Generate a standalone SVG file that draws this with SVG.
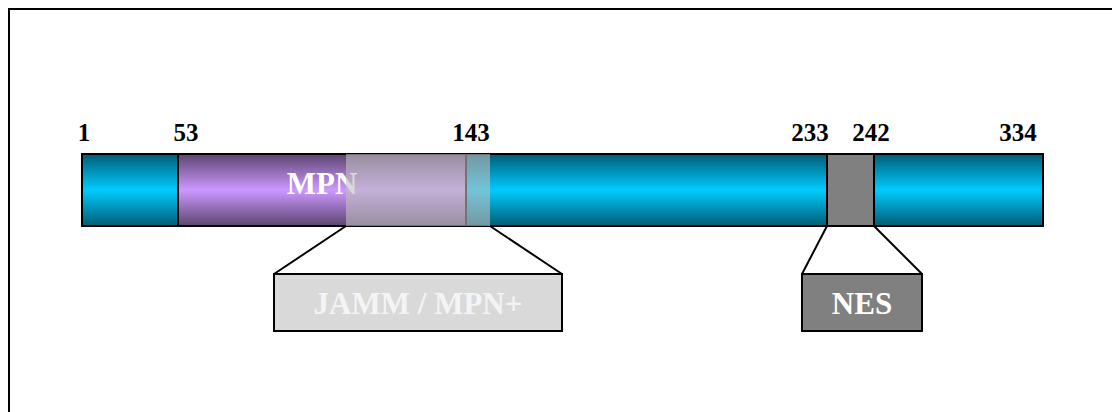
<svg xmlns="http://www.w3.org/2000/svg" width="1112" height="412" viewBox="0 0 1112 412">
  <defs>
    <linearGradient id="cyan" x1="0" y1="0" x2="0" y2="1">
      <stop offset="0" stop-color="#005c74"/>
      <stop offset="0.5" stop-color="#00ccff"/>
      <stop offset="1" stop-color="#005c74"/>
    </linearGradient>
    <linearGradient id="purple" x1="0" y1="0" x2="0" y2="1">
      <stop offset="0" stop-color="#5c4470"/>
      <stop offset="0.5" stop-color="#cc99ff"/>
      <stop offset="1" stop-color="#5c4470"/>
    </linearGradient>
  </defs>
  <style>
    .num { font-family: "Liberation Serif", "Times New Roman", serif; font-weight: bold; font-size: 25px; fill: #000; text-anchor: middle; }
    .lbl { font-family: "Liberation Serif", "Times New Roman", serif; font-weight: bold; font-size: 31px; text-anchor: middle; }
    .edge { stroke: #000; stroke-width: 2; fill: none; }
  </style>
  <rect x="0" y="0" width="1112" height="412" fill="#fff"/>
  <path d="M9 414 V9 H1114" fill="none" stroke="#000" stroke-width="2"/>

  <g id="bar">
    <rect x="82" y="154" width="961" height="72" fill="url(#cyan)" stroke="#000" stroke-width="2"/>
  </g>
  <g id="mpn">
    <rect x="178" y="154" width="288" height="72" fill="url(#purple)" stroke="#000" stroke-width="2"/>
    <text class="lbl" x="322" y="194" fill="#fff">MPN</text>
  </g>
  <g id="jamm-region">
    <rect x="346" y="154" width="144" height="72" fill="#c0c0c0" fill-opacity="0.6"/>
  </g>
  <g id="nes-region">
    <rect x="827" y="154" width="47" height="72" fill="#808080" stroke="#000" stroke-width="2"/>
  </g>

  <g id="labels">
    <text class="num" x="84" y="141">1</text>
    <text class="num" x="186" y="141">53</text>
    <text class="num" x="471" y="141">143</text>
    <text class="num" x="810" y="141">233</text>
    <text class="num" x="871" y="141">242</text>
    <text class="num" x="1018" y="141">334</text>
  </g>

  <g id="connectors">
    <line class="edge" x1="346" y1="226" x2="274" y2="274"/>
    <line class="edge" x1="490" y1="226" x2="562" y2="274"/>
    <line class="edge" x1="827" y1="226" x2="802" y2="274"/>
    <line class="edge" x1="874" y1="226" x2="922" y2="274"/>
  </g>

  <g id="jamm">
    <rect x="275" y="275" width="288" height="57" fill="#999"/>
    <rect x="274" y="274" width="288" height="57" fill="#d9d9d9" stroke="#000" stroke-width="2"/>
    <text class="lbl" x="418" y="314" fill="#f4f4f4">JAMM / MPN+</text>
  </g>
  <g id="nes">
    <rect x="803" y="275" width="120" height="57" fill="#666"/>
    <rect x="802" y="274" width="120" height="57" fill="#808080" stroke="#000" stroke-width="2"/>
    <text class="lbl" x="862" y="314" fill="#fff">NES</text>
  </g>
</svg>
